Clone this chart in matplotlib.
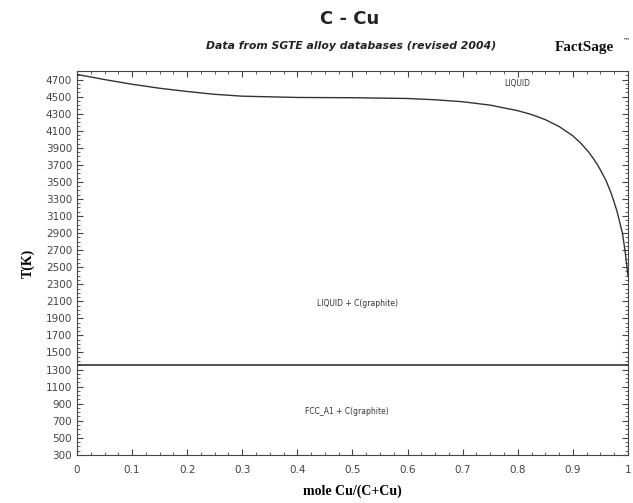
import numpy as np
import matplotlib.pyplot as plt
from matplotlib.ticker import MultipleLocator, FixedLocator

# liquidus
x_liq = [0.0, 0.05, 0.1, 0.15, 0.2, 0.25, 0.3, 0.4, 0.5, 0.6, 0.65, 0.7, 0.75, 0.8, 0.825, 0.85, 0.875,
         0.9, 0.915, 0.93, 0.945, 0.96, 0.97, 0.98, 0.99, 0.995, 1.0]
t_liq = [4760, 4700, 4645, 4598, 4560, 4527, 4505, 4490, 4487, 4478, 4463, 4440, 4400, 4335, 4290, 4230, 4150,
         4040, 3950, 3840, 3700, 3520, 3360, 3160, 2900, 2680, 2400]

# eutectic / Cu melting line
t_eut = 1358

xticks = [0, 0.1, 0.2, 0.3, 0.4, 0.5, 0.6, 0.7, 0.8, 0.9, 1.0]
xlabels = ['0', '0.1', '0.2', '0.3', '0.4', '0.5', '0.6', '0.7', '0.8', '0.9', '1']
yticks = list(range(300, 4701, 200))

fig = plt.figure(figsize=(6.33, 5.03), dpi=100)
ax = fig.add_axes([0.1216, 0.0954, 0.8704, 0.7634])

ax.plot(x_liq, t_liq, color='#333333', lw=1.0)
ax.axhline(t_eut, color='#333333', lw=1.2)

ax.set_xlim(0, 1)
ax.set_ylim(298, 4800)
ax.xaxis.set_major_locator(FixedLocator(xticks))
ax.set_xticklabels(xlabels)
ax.xaxis.set_minor_locator(MultipleLocator(0.025))
ax.yaxis.set_major_locator(FixedLocator(yticks))
ax.yaxis.set_minor_locator(MultipleLocator(50))
ax.tick_params(which='both', direction='in', top=True, right=True, colors='#444444',
               labelcolor='#444444', labelsize=7.5)
ax.tick_params(which='major', length=4)
ax.tick_params(which='minor', length=2)
ax.tick_params(axis='x', pad=7)
for s in ax.spines.values():
    s.set_color('#444444')

# phase labels
ax.text(0.80, 4650, 'LIQUID', fontsize=5.5, ha='center', va='center', color='#333333')
ax.text(0.51, 2080, 'LIQUID + C(graphite)', fontsize=5.5, ha='center', va='center', color='#333333')
ax.text(0.49, 810, 'FCC_A1 + C(graphite)', fontsize=5.5, ha='center', va='center', color='#333333')

ax.set_xlabel('mole Cu/(C+Cu)', family='Liberation Serif', fontweight='bold', fontsize=10, labelpad=7)
ax.set_ylabel('T(K)', family='Liberation Serif', fontweight='bold', fontsize=10, labelpad=8)

fig.text(0.553, 0.962, 'C - Cu', ha='center', va='center', fontsize=13, fontweight='bold', color='#222222')
fig.text(0.555, 0.908, 'Data from SGTE alloy databases (revised 2004)', ha='center', va='center',
         fontsize=7.8, fontstyle='italic', fontweight='bold', color='#222222')
fig.text(0.924, 0.905, 'FactSage', ha='center', va='center', fontsize=11, fontweight='bold',
         family='Liberation Serif', color='#111111')
fig.text(0.99, 0.92, '™', ha='center', va='center', fontsize=5, color='#111111')

fig.savefig('out.png', dpi=100)
